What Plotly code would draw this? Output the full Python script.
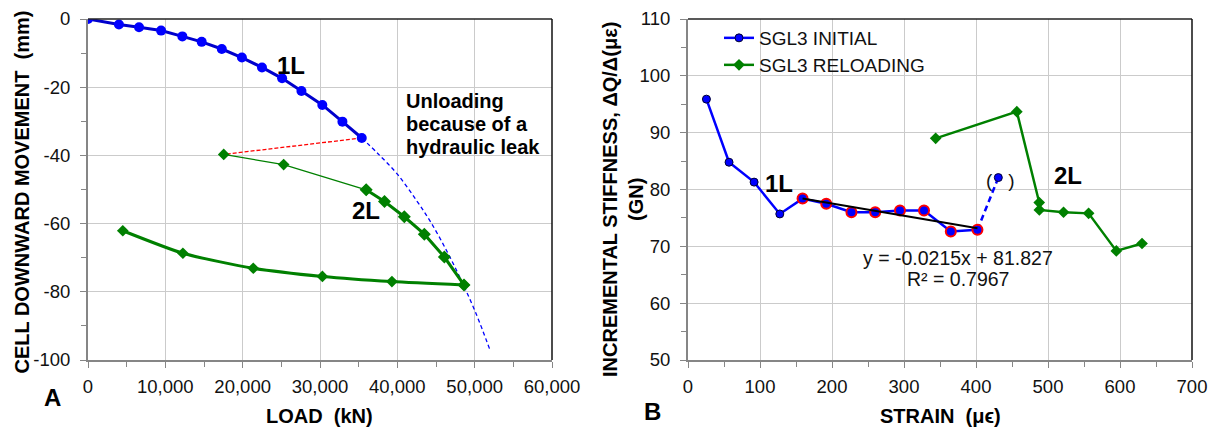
import plotly.graph_objects as go

# ---------------- Panel A: load vs. cell downward movement ----------------
load_1L = [0, 4000, 6600, 9450, 12200, 14700, 17300, 19900, 22500, 25100, 27600, 30300, 32900, 35400]
move_1L = [0, -1.6, -2.4, -3.4, -5.1, -6.7, -8.8, -11.3, -14.2, -17.4, -21.1, -25.2, -30.1, -34.9]

# extrapolated continuation of the first loading curve
load_ext = [35400, 37500, 40000, 42500, 44300, 46500, 48400, 50200, 52000]
move_ext = [-34.9, -39.5, -45.5, -53.3, -59.5, -68.5, -77.3, -86.5, -97.2]

# second loading (2L): thin initial part, then thick reloading
load_2L_thin = [17550, 25300, 35970]
move_2L_thin = [-39.7, -42.7, -50.1]
load_2L = [35970, 38340, 40900, 43490, 46080, 48620]
move_2L = [-50.1, -53.5, -58.0, -63.1, -69.8, -78.0]

# unloading after 2L
load_unl = [48620, 39300, 30310, 21370, 12270, 4500]
move_unl = [-78.0, -77.0, -75.5, -73.1, -68.7, -62.1]

x_ticks_A = [0, 10000, 20000, 30000, 40000, 50000, 60000]
x_labels_A = ["0", "10,000", "20,000", "30,000", "40,000", "50,000", "60,000"]
y_ticks_A = [0, -20, -40, -60, -80, -100]
y_labels_A = ["0", "-20", "-40", "-60", "-80", "-100"]

# ---------------- Panel B: strain vs. incremental stiffness ----------------
strain_init = [25.6, 57.0, 91.8, 127.5, 159.1, 192.0, 227.0, 260.0, 294.4, 327.8, 365.0, 402.0]
stiff_init = [95.9, 84.8, 81.3, 75.7, 78.4, 77.5, 76.0, 76.0, 76.3, 76.3, 72.6, 72.9]
fit_from = 4  # points used for the linear fit (ringed)

strain_excl = [402.0, 431.0]
stiff_excl = [72.9, 82.1]

strain_rel = [344.0, 456.7, 487.8, 488.0, 521.6, 556.4, 594.9, 630.6]
stiff_rel = [89.0, 93.7, 77.7, 76.4, 76.0, 75.8, 69.2, 70.5]

fit_slope = -0.0215
fit_intercept = 81.827
fit_r2 = 0.7967

x_ticks_B = [0, 100, 200, 300, 400, 500, 600, 700]
y_ticks_B = [50, 60, 70, 80, 90, 100, 110]

FONT = "Arial, 'Liberation Sans', sans-serif"
BLUE = "#0000FF"
BLUE_DK = "#0000CC"
GREEN = "#008000"
GRID = "#CBCBCB"
AXIS = "#868686"
TXT = "#111111"

W, H = 1214, 430
fig = go.Figure()

# ---- panel A traces
fig.add_trace(go.Scatter(x=load_ext, y=move_ext, mode="lines", xaxis="x", yaxis="y",
                         line=dict(color=BLUE, width=1.3, dash="4px,3px", shape="spline"),
                         showlegend=False))
fig.add_trace(go.Scatter(x=[load_1L[-1], load_2L_thin[0]], y=[move_1L[-1], move_2L_thin[0]],
                         mode="lines", xaxis="x", yaxis="y",
                         line=dict(color="#FF0000", width=1.3, dash="4px,2px"), showlegend=False))
fig.add_trace(go.Scatter(x=load_1L, y=move_1L, mode="lines+markers", xaxis="x", yaxis="y",
                         line=dict(color=BLUE_DK, width=3),
                         marker=dict(color=BLUE, size=10, symbol="circle"), showlegend=False))
fig.add_trace(go.Scatter(x=load_2L_thin, y=move_2L_thin, mode="lines+markers", xaxis="x", yaxis="y",
                         line=dict(color=GREEN, width=1.3),
                         marker=dict(color=GREEN, size=9, symbol="diamond"), showlegend=False))
fig.add_trace(go.Scatter(x=load_unl, y=move_unl, mode="lines+markers", xaxis="x", yaxis="y",
                         line=dict(color=GREEN, width=3, shape="spline", smoothing=0.6),
                         marker=dict(color=GREEN, size=9, symbol="diamond"), showlegend=False))
fig.add_trace(go.Scatter(x=load_2L, y=move_2L, mode="lines+markers", xaxis="x", yaxis="y",
                         line=dict(color=GREEN, width=3),
                         marker=dict(color=GREEN, size=10, symbol="diamond"), showlegend=False))

# ---- panel B traces
fig.add_trace(go.Scatter(x=strain_excl, y=stiff_excl, mode="lines", xaxis="x2", yaxis="y2",
                         line=dict(color=BLUE, width=2.5, dash="6px,4px"), showlegend=False))
fig.add_trace(go.Scatter(x=strain_excl[1:], y=stiff_excl[1:], mode="markers", xaxis="x2", yaxis="y2",
                         marker=dict(color=BLUE, size=8, line=dict(color="#000033", width=1)),
                         showlegend=False))
fig.add_trace(go.Scatter(x=strain_init, y=stiff_init, mode="lines+markers", xaxis="x2", yaxis="y2",
                         name="SGL3 INITIAL", legend="legend",
                         line=dict(color=BLUE, width=2.5),
                         marker=dict(color=BLUE, size=8, line=dict(color="#000033", width=1))))
fig.add_trace(go.Scatter(x=strain_init[fit_from:], y=stiff_init[fit_from:], mode="markers",
                         xaxis="x2", yaxis="y2",
                         marker=dict(color=BLUE, size=10, line=dict(color="#FF0000", width=2)),
                         showlegend=False))
fit_x = [strain_init[fit_from], strain_init[-1]]
fit_y = [fit_slope * v + fit_intercept for v in fit_x]
fig.add_trace(go.Scatter(x=fit_x, y=fit_y, mode="lines", xaxis="x2", yaxis="y2",
                         line=dict(color="#000000", width=2), showlegend=False))
fig.add_trace(go.Scatter(x=strain_rel, y=stiff_rel, mode="lines+markers", xaxis="x2", yaxis="y2",
                         name="SGL3 RELOADING", legend="legend2",
                         line=dict(color=GREEN, width=2.5),
                         marker=dict(color=GREEN, size=9, symbol="diamond")))

dom_y = [1 - 360 / H, 1 - 19 / H]
tickfont = dict(family=FONT, size=18.5, color=TXT)


def axis(dom, rng, tv, tt, dt_minor, anchor, standoff):
    return dict(domain=dom, range=rng, tickvals=tv, ticktext=tt, anchor=anchor,
                showgrid=True, gridcolor=GRID, gridwidth=1.3, zeroline=False,
                showline=True, linecolor=AXIS, linewidth=2,
                ticks="outside", ticklen=6, tickwidth=1.3, tickcolor=AXIS,
                tickfont=tickfont, ticklabelstandoff=standoff,
                minor=dict(ticks="outside", ticklen=5, tickwidth=1.3, tickcolor=AXIS,
                           dtick=dt_minor, showgrid=False),
                automargin=False, fixedrange=True)


fig.update_layout(
    width=W, height=H,
    margin=dict(l=0, r=0, t=0, b=0),
    paper_bgcolor="white", plot_bgcolor="white",
    font=dict(family=FONT, color=TXT),
    xaxis=axis([88 / W, 552 / W], [0, 60000], x_ticks_A, x_labels_A, 5000, "y", 3),
    yaxis=axis(dom_y, [-100, 0], y_ticks_A, y_labels_A, 10, "x", 6),
    xaxis2=axis([688 / W, 1192 / W], [0, 700], x_ticks_B, [str(v) for v in x_ticks_B], 50, "y2", 3),
    yaxis2=axis(dom_y, [50, 110], y_ticks_B, [str(v) for v in y_ticks_B], 5, "x2", 6),
    legend=dict(x=719 / W, y=1 - 38 / H, xanchor="left", yanchor="middle",
                font=dict(family=FONT, size=19, color=TXT), bgcolor="rgba(0,0,0,0)"),
    legend2=dict(x=719 / W, y=1 - 65 / H, xanchor="left", yanchor="middle",
                 font=dict(family=FONT, size=19, color=TXT), bgcolor="rgba(0,0,0,0)"),
)

# dark top/right frame of each plot
for xr, yr in (("x", "y"), ("x2", "y2")):
    fig.add_shape(type="line", xref=xr + " domain", yref=yr + " domain", x0=0, x1=1, y0=1, y1=1,
                  line=dict(color="#222222", width=1.5))
    fig.add_shape(type="line", xref=xr + " domain", yref=yr + " domain", x0=1, x1=1, y0=0, y1=1,
                  line=dict(color="#111111", width=1.5))


def ann(text, x, y, size, xref="paper", yref="paper", b=True, xanchor="center", **kw):
    t = "<b>" + text + "</b>" if b else text
    fig.add_annotation(text=t, x=x, y=y, xref=xref, yref=yref, showarrow=False,
                       xanchor=xanchor, yanchor="middle",
                       font=dict(family=FONT, size=size, color="#000000" if b else TXT), **kw)


# axis titles
ann("CELL DOWNWARD MOVEMENT\u00a0\u00a0(mm)", 21.5 / W, 1 - 192 / H, 20, textangle=-90)
ann("LOAD\u00a0\u00a0(kN)", 319 / W, 1 - 416 / H, 20)
ann("INCREMENTAL STIFFNESS, \u0394Q/\u0394(\u03bc\u03b5)<br>(GN)", 623 / W, 1 - 200 / H, 20,
    textangle=-90)
ann("STRAIN\u00a0\u00a0(\u03bc\u03f5)", 940 / W, 1 - 416 / H, 20)
ann("A", 52.5 / W, 1 - 397 / H, 24)
ann("B", 652 / W, 1 - 411 / H, 24)

# panel A labels
ann("1L", 26300, -13.6, 24, xref="x", yref="y")
ann("2L", 36000, -56.3, 24, xref="x", yref="y")
for line, yv in (("Unloading", -24.0), ("because of a", -30.7), ("hydraulic leak", -37.6)):
    ann(line, 40850, yv, 20, xref="x", yref="y", xanchor="left")

# panel B labels
ann("1L", 126, 81.0, 24, xref="x2", yref="y2")
ann("2L", 528, 82.5, 24, xref="x2", yref="y2")
ann("(\u00a0\u00a0\u00a0)", 434, 81.5, 19, xref="x2", yref="y2", b=False)
ann(f"y = {fit_slope}x + {fit_intercept}", 375, 68.0, 19.5, xref="x2", yref="y2", b=False)
ann(f"R\u00b2 = {fit_r2}", 375, 64.2, 19.5, xref="x2", yref="y2", b=False)

fig.write_html("out.html")
